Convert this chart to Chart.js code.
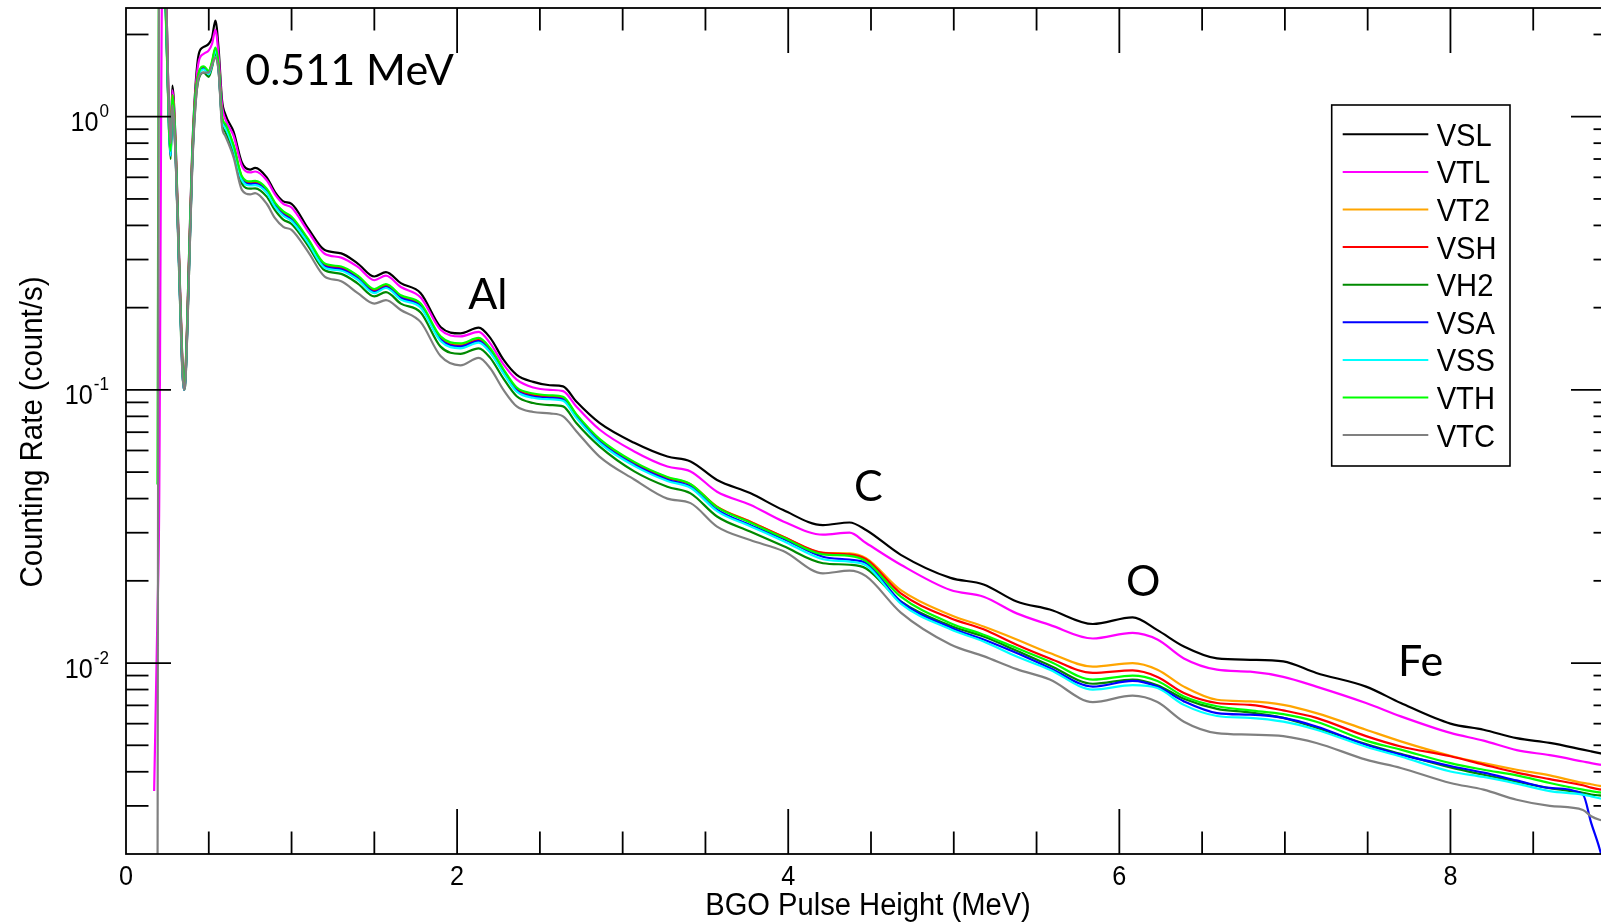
<!DOCTYPE html>
<html>
<head>
<meta charset="utf-8">
<script src="https://cdn.jsdelivr.net/npm/chart.js@4.4.1/dist/chart.umd.min.js"></script>
<style>
  html, body { margin: 0; padding: 0; background: #fff; overflow: hidden; }
  #wrap { width: 1640px; height: 923px; }
</style>
</head>
<body>
<div id="wrap"><canvas id="spectrum" width="1640" height="923"></canvas></div>
<script>
// pulse height bins (MeV)
const energies = [0.17, 0.19, 0.2, 0.22, 0.24, 0.26, 0.27, 0.28, 0.3, 0.32,
  0.34, 0.35, 0.36, 0.38, 0.4, 0.42, 0.44, 0.47, 0.5, 0.52,
  0.54, 0.56, 0.58, 0.6, 0.65, 0.7, 0.75, 0.78, 0.85, 0.9,
  0.95, 1.0, 1.1, 1.2, 1.3, 1.4, 1.5, 1.57, 1.66, 1.78,
  1.9, 2.02, 2.13, 2.2, 2.28, 2.36, 2.46, 2.56, 2.64, 2.72,
  2.86, 3.07, 3.27, 3.41, 3.57, 3.77, 3.97, 4.21, 4.37, 4.47,
  4.68, 4.98, 5.18, 5.38, 5.58, 5.84, 6.08, 6.23, 6.39, 6.59,
  6.79, 6.99, 7.19, 7.49, 7.7, 8.0, 8.2, 8.4, 8.6, 8.8,
  8.85, 8.9, 9.0];

// counting rates (count/s)
const vsl = [null, null, null, 3.5, 3.0, 1.0, 0.8, 1.3, 0.8, 0.32,
  0.13, 0.105, 0.12, 0.3, 0.75, 1.3, 1.7, 1.8, 1.85, 1.95,
  2.25, 1.75, 1.15, 1.02, 0.88, 0.68, 0.64, 0.65, 0.6, 0.53,
  0.49, 0.48, 0.39, 0.325, 0.316, 0.29, 0.26, 0.27, 0.246, 0.226,
  0.17, 0.161, 0.169, 0.155, 0.129, 0.1135, 0.107, 0.104, 0.103, 0.0906,
  0.0757, 0.064, 0.057, 0.0547, 0.0468, 0.0419, 0.0363, 0.032, 0.0327, 0.0307,
  0.0249, 0.0205, 0.0194, 0.0168, 0.0157, 0.0139, 0.0147, 0.0132, 0.0115, 0.0104,
  0.01028, 0.01014, 0.0092, 0.0082, 0.00714, 0.006, 0.0057, 0.00531, 0.0051, 0.00482,
  0.00475, 0.00468, 0.00455];
const vtl = [0.0034, 0.015, 0.035, 3.5, 2.9, 1.0, 0.78, 1.25, 0.78, 0.31,
  0.128, 0.104, 0.118, 0.29, 0.72, 1.25, 1.6, 1.7, 1.75, 1.85,
  2.08, 1.65, 1.1, 0.98, 0.85, 0.66, 0.625, 0.63, 0.585, 0.52,
  0.48, 0.465, 0.38, 0.315, 0.305, 0.282, 0.252, 0.262, 0.238, 0.218,
  0.166, 0.157, 0.163, 0.148, 0.124, 0.109, 0.102, 0.1, 0.099, 0.087,
  0.0716, 0.0595, 0.0524, 0.0503, 0.0424, 0.038, 0.033, 0.0295, 0.03, 0.0275,
  0.0229, 0.0185, 0.0175, 0.0152, 0.0138, 0.0123, 0.0129, 0.0122, 0.0104, 0.00946,
  0.0093, 0.0089, 0.0082, 0.00714, 0.00638, 0.00555, 0.0052, 0.0048, 0.0046, 0.00436,
  0.0043, 0.00425, 0.0042];
const vt2 = [null, null, null, 3.5, 2.6, 0.95, 0.76, 1.2, 0.75, 0.3,
  0.125, 0.102, 0.115, 0.28, 0.7, 1.2, 1.45, 1.52, 1.46, 1.58,
  1.77, 1.5, 1.0, 0.93, 0.78, 0.6, 0.575, 0.577, 0.54, 0.48,
  0.445, 0.426, 0.354, 0.287, 0.28, 0.26, 0.232, 0.242, 0.22, 0.205,
  0.155, 0.146, 0.153, 0.14, 0.118, 0.101, 0.096, 0.0948, 0.0936, 0.081,
  0.0657, 0.054, 0.0478, 0.0452, 0.0374, 0.033, 0.029, 0.0253, 0.0252, 0.0242,
  0.0185, 0.015, 0.0136, 0.0122, 0.01088, 0.0097, 0.01, 0.00946, 0.0082, 0.00734,
  0.00724, 0.00703, 0.00656, 0.0057, 0.00517, 0.00458, 0.0043, 0.00407, 0.00388, 0.00364,
  0.0036, 0.00355, 0.0035];
const vsh = [null, null, null, 3.5, 2.6, 0.95, 0.76, 1.2, 0.74, 0.3,
  0.124, 0.102, 0.114, 0.28, 0.7, 1.2, 1.45, 1.51, 1.45, 1.57,
  1.76, 1.5, 0.99, 0.93, 0.775, 0.598, 0.572, 0.575, 0.538, 0.478,
  0.443, 0.424, 0.352, 0.286, 0.279, 0.259, 0.231, 0.241, 0.219, 0.204,
  0.154, 0.145, 0.152, 0.139, 0.117, 0.1005, 0.0955, 0.0943, 0.0931, 0.0806,
  0.0654, 0.0538, 0.0476, 0.045, 0.0373, 0.0329, 0.029, 0.0253, 0.025, 0.024,
  0.018, 0.0146, 0.0133, 0.01167, 0.0104, 0.0092, 0.0094, 0.0089, 0.00777, 0.00714,
  0.00703, 0.00671, 0.0063, 0.0054, 0.00495, 0.00456, 0.00425, 0.00397, 0.00376, 0.00357,
  0.0035, 0.00345, 0.0034];
const vh2 = [null, null, null, 3.5, 2.4, 0.88, 0.7, 1.1, 0.7, 0.28,
  0.118, 0.1, 0.11, 0.26, 0.66, 1.12, 1.38, 1.45, 1.4, 1.52,
  1.7, 1.45, 0.95, 0.88, 0.74, 0.57, 0.545, 0.547, 0.51, 0.455,
  0.42, 0.405, 0.337, 0.274, 0.266, 0.245, 0.22, 0.228, 0.207, 0.192,
  0.144, 0.1355, 0.142, 0.131, 0.11, 0.0948, 0.0895, 0.088, 0.087, 0.0756,
  0.0621, 0.0503, 0.0442, 0.0418, 0.0344, 0.0303, 0.0268, 0.0232, 0.0229, 0.0222,
  0.0168, 0.0137, 0.0125, 0.0111, 0.0098, 0.0084, 0.0087, 0.0083, 0.0074, 0.0068,
  0.0066, 0.0063, 0.0058, 0.00505, 0.00465, 0.00415, 0.0039, 0.00368, 0.00348, 0.00335,
  0.0033, 0.00328, 0.0032];
const vsa = [null, null, null, 3.5, 2.5, 0.9, 0.72, 1.15, 0.72, 0.29,
  0.12, 0.1, 0.112, 0.27, 0.68, 1.18, 1.43, 1.5, 1.44, 1.56,
  1.75, 1.48, 0.98, 0.92, 0.77, 0.59, 0.567, 0.568, 0.532, 0.473,
  0.438, 0.42, 0.349, 0.283, 0.276, 0.256, 0.228, 0.238, 0.217, 0.202,
  0.153, 0.144, 0.151, 0.138, 0.116, 0.0995, 0.0946, 0.0934, 0.0922, 0.0798,
  0.0647, 0.0532, 0.0469, 0.0442, 0.0364, 0.032, 0.0285, 0.0245, 0.0239, 0.0232,
  0.0168, 0.0135, 0.0122, 0.01088, 0.0096, 0.0082, 0.0086, 0.0082, 0.00724, 0.00656,
  0.00647, 0.0063, 0.00586, 0.00502, 0.00462, 0.0042, 0.00397, 0.00372, 0.00349, 0.0033,
  0.0026, 0.0021, 0.0012];
const vss = [null, null, null, 3.5, 2.5, 0.9, 0.72, 1.15, 0.72, 0.29,
  0.12, 0.1, 0.112, 0.27, 0.68, 1.17, 1.42, 1.49, 1.43, 1.55,
  1.74, 1.47, 0.97, 0.91, 0.76, 0.585, 0.56, 0.562, 0.527, 0.468,
  0.434, 0.415, 0.345, 0.28, 0.273, 0.253, 0.226, 0.236, 0.214, 0.2,
  0.151, 0.142, 0.149, 0.137, 0.115, 0.0985, 0.0936, 0.0924, 0.0912, 0.079,
  0.064, 0.0527, 0.0464, 0.0438, 0.036, 0.0317, 0.028, 0.024, 0.0235, 0.0228,
  0.0165, 0.0133, 0.012, 0.01057, 0.00946, 0.008, 0.0083, 0.0081, 0.00703, 0.0064,
  0.0063, 0.0061, 0.0057, 0.00494, 0.00455, 0.00401, 0.00383, 0.00362, 0.0034, 0.0033,
  0.00325, 0.0032, 0.0031];
const vth = [null, 0.045, 3.5, 3.5, 2.5, 0.9, 0.75, 1.2, 0.75, 0.3,
  0.125, 0.102, 0.115, 0.28, 0.7, 1.2, 1.45, 1.53, 1.47, 1.6,
  1.79, 1.53, 1.0, 0.94, 0.785, 0.605, 0.58, 0.582, 0.545, 0.485,
  0.45, 0.43, 0.357, 0.29, 0.283, 0.262, 0.234, 0.244, 0.222, 0.207,
  0.157, 0.148, 0.155, 0.142, 0.119, 0.102, 0.097, 0.0955, 0.0943, 0.0815,
  0.0662, 0.0545, 0.048, 0.0452, 0.0372, 0.0327, 0.0288, 0.025, 0.0247, 0.0236,
  0.0175, 0.014, 0.0127, 0.01135, 0.01014, 0.0087, 0.009, 0.0086, 0.00755, 0.00695,
  0.00671, 0.0065, 0.0061, 0.0052, 0.00482, 0.0043, 0.00407, 0.00388, 0.00364, 0.00344,
  0.0034, 0.00336, 0.0033];
const vtc = [null, 0.001, 3.5, 3.5, 3.0, 1.0, 0.8, 1.1, 0.7, 0.3,
  0.12, 0.1, 0.11, 0.26, 0.65, 1.1, 1.4, 1.45, 1.45, 1.55,
  1.65, 1.45, 0.92, 0.85, 0.71, 0.54, 0.52, 0.525, 0.48, 0.425,
  0.395, 0.385, 0.32, 0.26, 0.25, 0.226, 0.207, 0.213, 0.196, 0.177,
  0.133, 0.123, 0.131, 0.12, 0.1, 0.087, 0.083, 0.082, 0.08, 0.0706,
  0.057, 0.047, 0.04, 0.0385, 0.0316, 0.0282, 0.0257, 0.0213, 0.0218, 0.0208,
  0.0153, 0.0117, 0.0106, 0.0095, 0.0087, 0.0072, 0.0076, 0.0072, 0.0061, 0.00554,
  0.00547, 0.0054, 0.0051, 0.00443, 0.00413, 0.00364, 0.00344, 0.00316, 0.003, 0.0029,
  0.00275, 0.00267, 0.0026];

const seriesNames = ['VSL', 'VTL', 'VT2', 'VSH', 'VH2', 'VSA', 'VSS', 'VTH', 'VTC'];
const seriesValues = [vsl, vtl, vt2, vsh, vh2, vsa, vss, vth, vtc];
const seriesColors = ['#000000', '#ff00ff', '#ffa500', '#ff0000', '#008a00',
  '#0000ff', '#00ffff', '#00ff00', '#808080'];

const xTickValues = [0, 2, 4, 6, 8];
const yTickValues = [1, 0.1, 0.01];
const yTickExponents = ['0', '-1', '-2'];

// line labels: text, energy, rate at baseline
const peakLabels = ['0.511 MeV', 'Al', 'C', 'O', 'Fe'];
const peakEnergies = [0.72, 2.067, 4.398, 6.04, 7.683];
const peakRates = [1.306, 0.1978, 0.0391, 0.01763, 0.00895];

function drawText(ctx, s, x, y, font, align, sx) {
  ctx.save();
  ctx.font = font;
  ctx.textAlign = align;
  ctx.textBaseline = 'alphabetic';
  ctx.translate(x, y);
  ctx.scale(sx, 1);
  ctx.fillText(s, 0, 0);
  ctx.restore();
}

function seg(ctx, x1, y1, x2, y2) {
  ctx.beginPath();
  ctx.moveTo(x1, y1);
  ctx.lineTo(x2, y2);
  ctx.stroke();
}

const framePlugin = {
  id: 'frame',
  afterDraw(chart) {
    const ctx = chart.ctx;
    const a = chart.chartArea;
    const xs = chart.scales.x;
    const ys = chart.scales.y;
    ctx.save();
    ctx.strokeStyle = '#000';
    ctx.fillStyle = '#000';
    ctx.lineWidth = 1.8;
    ctx.strokeRect(a.left, a.top, a.right - a.left, a.bottom - a.top);

    // inward ticks
    for (let v = 0.5; v < 9; v += 0.5) {
      const px = xs.getPixelForValue(v);
      const len = v % 2 === 0 ? 45 : 22.5;
      seg(ctx, px, a.bottom, px, a.bottom - len);
      seg(ctx, px, a.top, px, a.top + len);
    }
    for (let d = -3; d <= 0; d++) {
      for (let m = 1; m <= 9; m++) {
        const v = m * Math.pow(10, d);
        if (v <= 0.00201 || v > 2.5) continue;
        const py = ys.getPixelForValue(v);
        const len = m === 1 ? 45 : 22.5;
        seg(ctx, a.left, py, a.left + len, py);
        seg(ctx, a.right, py, a.right - len, py);
      }
    }

    // tick labels
    const tickFont = '28px "Liberation Sans", Arial, sans-serif';
    const supFont = '19px "Liberation Sans", Arial, sans-serif';
    xTickValues.forEach(v => {
      drawText(ctx, String(v), xs.getPixelForValue(v), a.bottom + 30.5, tickFont, 'center', 0.9);
    });
    yTickValues.forEach((v, i) => {
      const py = ys.getPixelForValue(v);
      const right = 109;
      ctx.font = supFont;
      const w = ctx.measureText(yTickExponents[i]).width * 0.9;
      drawText(ctx, yTickExponents[i], right, py + 0.5, supFont, 'right', 0.9);
      drawText(ctx, '10', right - w - 1, py + 14.5, tickFont, 'right', 0.9);
    });

    // axis titles
    const titleFont = '31px "Liberation Sans", Arial, sans-serif';
    drawText(ctx, 'BGO Pulse Height (MeV)', (a.left + a.right) / 2 - 3, 915, titleFont, 'center', 0.94);
    ctx.save();
    ctx.translate(41.5, (a.top + a.bottom) / 2 + 1);
    ctx.rotate(-Math.PI / 2);
    drawText(ctx, 'Counting Rate (count/s)', 0, 0, '32px "Liberation Sans", Arial, sans-serif', 'center', 0.92);
    ctx.restore();

    // peak labels
    peakLabels.forEach((s, i) => {
      drawText(ctx, s, xs.getPixelForValue(peakEnergies[i]), ys.getPixelForValue(peakRates[i]),
        '43px Lato, "Open Sans", sans-serif', 'left', 1);
    });

    // legend box
    const bx = 1331.7, by = 105, bw = 178.3, bh = 361;
    ctx.fillStyle = '#fff';
    ctx.fillRect(bx, by, bw, bh);
    ctx.lineWidth = 1.6;
    ctx.strokeStyle = '#000';
    ctx.strokeRect(bx, by, bw, bh);
    chart.data.datasets.forEach((ds, i) => {
      const cy = 134.3 + i * 37.6;
      ctx.strokeStyle = ds.borderColor;
      ctx.lineWidth = 2;
      seg(ctx, 1342.7, cy, 1428.3, cy);
      ctx.fillStyle = '#000';
      drawText(ctx, ds.label, 1436.7, cy + 11.5, '32px "Liberation Sans", Arial, sans-serif', 'left', 0.91);
    });
    ctx.restore();
  }
};

const datasets = seriesNames.map((name, i) => ({
  label: name,
  data: energies.map((e, k) => ({ x: e, y: seriesValues[i][k] })),
  borderColor: seriesColors[i],
  backgroundColor: seriesColors[i],
  borderWidth: 2.2,
  pointRadius: 0,
  cubicInterpolationMode: 'monotone',
  fill: false,
  order: seriesNames.length - 1 - i
}));

new Chart(document.getElementById('spectrum'), {
  type: 'line',
  data: { datasets: datasets },
  options: {
    responsive: false,
    animation: false,
    devicePixelRatio: 1,
    layout: { padding: { left: 126, right: 24, top: 8, bottom: 69 } },
    scales: {
      x: { type: 'linear', min: 0, max: 9, display: false },
      y: { type: 'logarithmic', min: 0.002, max: 2.5, display: false }
    },
    plugins: {
      legend: { display: false },
      tooltip: { enabled: false }
    }
  },
  plugins: [framePlugin]
});
</script>
</body>
</html>
